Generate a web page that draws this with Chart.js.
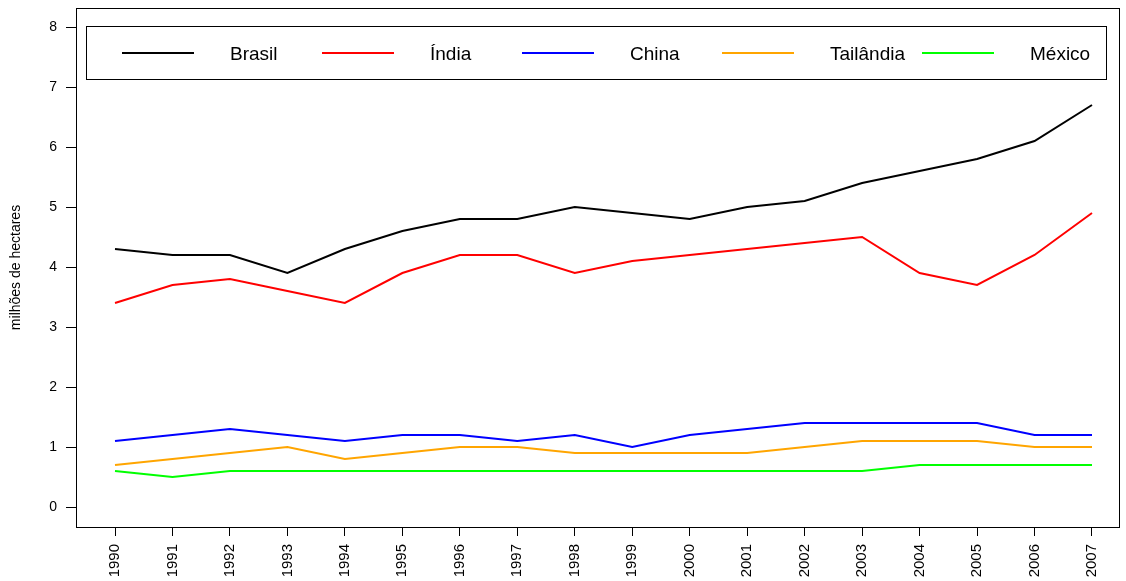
<!DOCTYPE html>
<html>
<head>
<meta charset="utf-8">
<script src="https://cdn.jsdelivr.net/npm/chart.js@4/dist/chart.umd.min.js"></script>
<style>
  html, body { margin: 0; padding: 0; background: #fff; }
  #wrap { width: 1126px; height: 581px; }
</style>
</head>
<body>
<div id="wrap"><canvas id="c" width="1126" height="581"></canvas></div>
<script>
// Área cultivada (milhões de hectares), 1990–2007
const anos = [1990, 1991, 1992, 1993, 1994, 1995, 1996, 1997, 1998, 1999, 2000, 2001, 2002, 2003, 2004, 2005, 2006, 2007];
const brasil    = [4.3, 4.2, 4.2, 3.9, 4.3, 4.6, 4.8, 4.8, 5.0, 4.9, 4.8, 5.0, 5.1, 5.4, 5.6, 5.8, 6.1, 6.7];
const india     = [3.4, 3.7, 3.8, 3.6, 3.4, 3.9, 4.2, 4.2, 3.9, 4.1, 4.2, 4.3, 4.4, 4.5, 3.9, 3.7, 4.2, 4.9];
const china     = [1.1, 1.2, 1.3, 1.2, 1.1, 1.2, 1.2, 1.1, 1.2, 1.0, 1.2, 1.3, 1.4, 1.4, 1.4, 1.4, 1.2, 1.2];
const tailandia = [0.7, 0.8, 0.9, 1.0, 0.8, 0.9, 1.0, 1.0, 0.9, 0.9, 0.9, 0.9, 1.0, 1.1, 1.1, 1.1, 1.0, 1.0];
const mexico    = [0.6, 0.5, 0.6, 0.6, 0.6, 0.6, 0.6, 0.6, 0.6, 0.6, 0.6, 0.6, 0.6, 0.6, 0.7, 0.7, 0.7, 0.7];
const yTicks = [0, 1, 2, 3, 4, 5, 6, 7, 8];

const FONT = "'Liberation Sans', Arial, Helvetica, sans-serif";

function serie(label, vals, color) {
  return {
    label: label,
    data: anos.map((a, i) => ({ x: a, y: vals[i] })),
    borderColor: color,
    backgroundColor: color,
    borderWidth: 2,
    pointRadius: 0,
    tension: 0,
    fill: false
  };
}

// Moldura em volta da área do gráfico
const moldura = {
  id: 'moldura',
  afterDraw(chart) {
    const { ctx, chartArea: a } = chart;
    ctx.save();
    ctx.strokeStyle = '#000';
    ctx.lineWidth = 1;
    ctx.strokeRect(Math.round(a.left) + 0.5, Math.round(a.top) + 0.5,
                   Math.round(a.right - a.left) - 1, Math.round(a.bottom - a.top));
    ctx.restore();
  }
};

// Legenda em caixa, numa única linha dentro do gráfico
const legendaCaixa = {
  id: 'legendaCaixa',
  afterDraw(chart) {
    const { ctx, chartArea: a } = chart;
    const x0 = a.left + 10, y0 = a.top + 18;
    const w = a.right - a.left - 24, h = 53;
    ctx.save();
    ctx.fillStyle = '#fff';
    ctx.fillRect(x0, y0, w, h);
    ctx.strokeStyle = '#000';
    ctx.lineWidth = 1;
    ctx.strokeRect(Math.round(x0) + 0.5, Math.round(y0) + 0.5, Math.round(w), Math.round(h));
    const cy = y0 + h / 2;
    ctx.font = '19px ' + FONT;
    ctx.textBaseline = 'middle';
    ctx.textAlign = 'left';
    chart.data.datasets.forEach((ds, i) => {
      const lx = x0 + 36 + i * 200;
      ctx.strokeStyle = ds.borderColor;
      ctx.lineWidth = 2;
      ctx.beginPath();
      ctx.moveTo(lx, Math.round(cy) );
      ctx.lineTo(lx + 72, Math.round(cy));
      ctx.stroke();
      ctx.fillStyle = '#000';
      ctx.fillText(ds.label, lx + 108, cy + 2);
    });
    ctx.restore();
  }
};

new Chart(document.getElementById('c'), {
  type: 'line',
  data: {
    datasets: [
      serie('Brasil', brasil, '#000000'),
      serie('Índia', india, '#ff0000'),
      serie('China', china, '#0000ff'),
      serie('Tailândia', tailandia, '#ffa500'),
      serie('México', mexico, '#00ff00')
    ]
  },
  options: {
    responsive: false,
    animation: false,
    layout: { padding: { top: 8, right: 6, left: 0, bottom: 0 } },
    plugins: {
      legend: { display: false },
      tooltip: { enabled: false }
    },
    scales: {
      x: {
        type: 'linear',
        min: 1990 - 39 / 57.47,
        max: 2007 + 28 / 57.47,
        afterBuildTicks(scale) { scale.ticks = anos.map(v => ({ value: v })); },
        afterFit(scale) { scale.height = 54; },
        grid: { drawOnChartArea: false, drawTicks: true, tickLength: 9, color: '#000', tickWidth: 1 },
        border: { display: false },
        ticks: {
          autoSkip: false,
          maxRotation: 90,
          minRotation: 90,
          padding: 8,
          color: '#000',
          font: { family: FONT, size: 15 },
          callback: v => String(v)
        }
      },
      y: {
        min: -20 / 60,
        max: 8 + 19 / 60,
        afterBuildTicks(scale) { scale.ticks = yTicks.map(v => ({ value: v })); },
        afterFit(scale) {
          scale.width = 76;
          scale.paddingTop = 0;
          scale.paddingBottom = 0;
        },
        grid: { drawOnChartArea: false, drawTicks: true, tickLength: 10, color: '#000', tickWidth: 1 },
        border: { display: false },
        title: {
          display: true,
          text: 'milhões de hectares',
          color: '#000',
          font: { family: FONT, size: 14 },
          padding: { top: 8, bottom: 0 }
        },
        ticks: {
          color: '#000',
          padding: 9,
          font: { family: FONT, size: 14 },
          callback: v => String(v)
        }
      }
    }
  },
  plugins: [moldura, legendaCaixa]
});
</script>
</body>
</html>
